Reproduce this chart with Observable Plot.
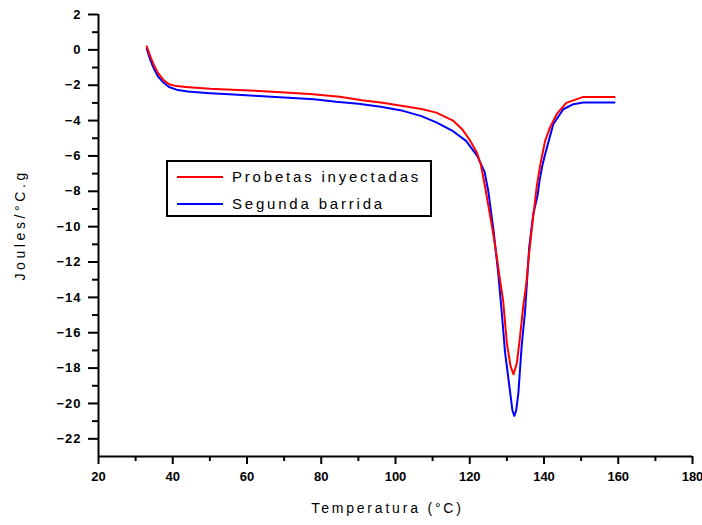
<!DOCTYPE html>
<html><head><meta charset="utf-8">
<script src="https://cdn.jsdelivr.net/npm/d3@7"></script>
<script src="https://cdn.jsdelivr.net/npm/@observablehq/plot@0.6"></script>
<style>
body{margin:0;background:#fff;}
#wrap{position:relative;width:702px;height:525px;}
#legend{position:absolute;left:166px;top:160px;width:262px;height:53px;border:2px solid #000;background:#fff;font-family:"Liberation Sans",Arial,sans-serif;font-size:15px;letter-spacing:2.8px;color:#000;}
.row{position:absolute;left:0;height:20px;width:100%;}
.sw{position:absolute;left:9px;width:46px;height:2px;top:9px;}
.lab{position:absolute;left:64px;top:1px;white-space:nowrap;line-height:18px;}
</style></head>
<body>
<div id="wrap"></div>
<script>
// Tick values
const xTicks = [20, 40, 60, 80, 100, 120, 140, 160, 180];
const xMinor = [30, 50, 70, 90, 110, 130, 150, 170];
const yTicks = [-22, -20, -18, -16, -14, -12, -10, -8, -6, -4, -2, 0, 2];
const yMinor = [-21, -19, -17, -15, -13, -11, -9, -7, -5, -3, -1, 1];

// Series: Probetas inyectadas (red)
const redTemp = [33, 34, 35, 36, 37.5, 39, 41, 43.5, 50, 59, 68, 77, 85, 91, 96, 102, 107, 111, 115.5, 118, 120, 122, 123, 124, 125, 126, 127, 128, 129, 130, 131, 131.8, 132.7, 133.5, 134.4, 135.2, 136, 137, 138, 139, 140.3, 141.6, 143.4, 146, 150.6, 159];
const redVal  = [0.2, -0.4, -0.9, -1.3, -1.7, -1.95, -2.05, -2.1, -2.2, -2.28, -2.38, -2.5, -2.65, -2.85, -2.98, -3.17, -3.35, -3.55, -4.0, -4.5, -5.1, -5.85, -6.5, -7.6, -8.8, -10.0, -11.3, -12.8, -14.2, -16.6, -17.9, -18.35, -17.7, -16.3, -14.5, -13.3, -11.5, -9.6, -7.8, -6.5, -5.15, -4.4, -3.64, -3.0, -2.66, -2.66];

// Series: Segunda barrida (blue)
const blueTemp = [33, 34, 35, 36, 37.5, 39, 41, 44, 50, 54, 62, 70, 78, 84, 90, 96, 102, 107, 111, 115.5, 119, 122, 124, 125, 126.4, 127.7, 128.6, 129.5, 130.9, 131.5, 132, 132.5, 133.1, 134, 134.9, 136, 137.1, 138.3, 138.8, 139.5, 140.3, 142.5, 145.2, 147.9, 150.6, 159];
const blueVal  = [0.05, -0.6, -1.1, -1.5, -1.85, -2.1, -2.25, -2.35, -2.45, -2.5, -2.6, -2.7, -2.8, -2.94, -3.05, -3.22, -3.45, -3.75, -4.1, -4.6, -5.15, -6.0, -6.9, -8.0, -10.2, -12.7, -14.8, -17.1, -19.4, -20.4, -20.7, -20.4, -19.4, -16.7, -14.8, -11.2, -9.3, -8.2, -7.4, -6.6, -5.9, -4.2, -3.36, -3.07, -2.98, -2.98];

const seriesNames = ["Probetas inyectadas", "Segunda barrida"];
const seriesColors = ["#ff0000", "#0000ff"];

const red = redTemp.map((t, i) => ({t, v: redVal[i]}));
const blue = blueTemp.map((t, i) => ({t, v: blueVal[i]}));

const font = '"Liberation Sans", Arial, sans-serif';
const chart = Plot.plot({
  width: 702, height: 525,
  marginLeft: 98, marginRight: 10, marginTop: 14, marginBottom: 69,
  x: {domain: [20, 180]},
  y: {domain: [-23, 2]},
  style: {fontFamily: font, fontSize: "13px", fontWeight: "bold", color: "#000", background: "#fff"},
  marks: [
    Plot.axisX(xTicks, {tickSize: 8, tickPadding: 7, strokeWidth: 2, label: null}),
    Plot.axisX(xMinor, {tickSize: 5, tickFormat: () => "", strokeWidth: 2, label: null}),
    Plot.axisY(yTicks, {tickSize: 10, tickPadding: 7, strokeWidth: 2, label: null}),
    Plot.axisY(yMinor, {tickSize: 6, tickFormat: () => "", strokeWidth: 2, label: null}),
    Plot.ruleX([20], {strokeWidth: 2}),
    Plot.ruleY([-23], {strokeWidth: 2}),
    Plot.line(blue, {x: "t", y: "v", stroke: seriesColors[1], strokeWidth: 2}),
    Plot.line(red, {x: "t", y: "v", stroke: seriesColors[0], strokeWidth: 2}),
    Plot.text(["Temperatura (°C)"], {text: d => d, frameAnchor: "bottom", dx: -8, dy: 56, fontSize: 14, fontWeight: "normal"}),
    Plot.text(["Joules/°C.g"], {text: d => d, frameAnchor: "left", dx: -78, dy: 45, rotate: -90, fontSize: 14, fontWeight: "normal"})
  ]
});
const texts = d3.select(chart).selectAll('g[aria-label="text"] text');
texts.style("letter-spacing", "2.8px");
d3.select(chart).selectAll('g[aria-label="text"]').filter((d, i) => i === 1).selectAll("text").style("letter-spacing", "3.6px");
d3.select(chart).selectAll('g[aria-label="y-axis tick label"] text').style("letter-spacing", "1px");
const wrap = document.getElementById("wrap");
wrap.appendChild(chart);

const legend = document.createElement("div");
legend.id = "legend";
seriesNames.forEach((name, i) => {
  const row = document.createElement("div");
  row.className = "row";
  row.style.top = (5 + i * 26.5) + "px";
  row.innerHTML = `<div class="sw" style="background:${seriesColors[i]}"></div><div class="lab">${name}</div>`;
  legend.appendChild(row);
});
wrap.appendChild(legend);
</script>
</body></html>
